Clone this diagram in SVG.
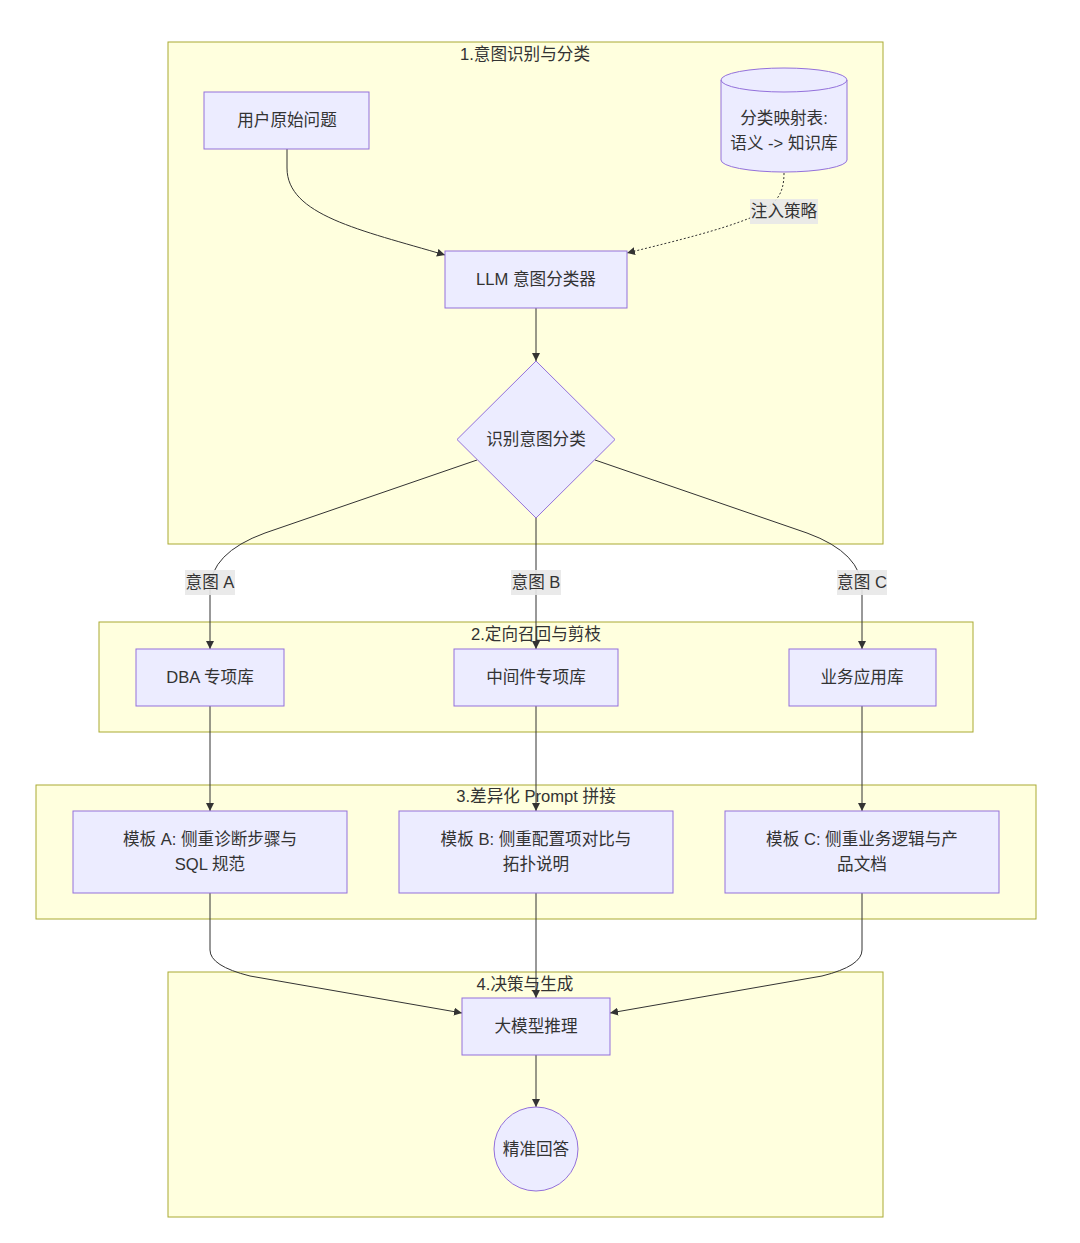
<svg xmlns="http://www.w3.org/2000/svg" width="1080" height="1243" viewBox="0 0 1080 1243">
<style>
.cluster{fill:#ffffde;stroke:#aaaa33;stroke-width:1}
.node{fill:#ececff;stroke:#9370db;stroke-width:1}
.t{font-family:"Liberation Sans","Noto Sans CJK SC",sans-serif;font-size:16.6px;fill:#333;text-anchor:middle;dominant-baseline:central}
.e{fill:none;stroke:#333;stroke-width:1}
.dot{stroke-dasharray:2 2}
.lbl{fill:#e8e8e8;opacity:0.9}
</style>
<defs>
<marker id="arr" viewBox="0 0 10 10" refX="10" refY="5" markerWidth="8" markerHeight="8" markerUnits="userSpaceOnUse" orient="auto">
<path d="M0,0 L10,5 L0,10 z" fill="#333"/>
</marker>
</defs>
<rect width="1080" height="1243" fill="#fff"/>
<g id="clusters">
<g id="c1"><rect class="cluster" x="168" y="42" width="715" height="502"/><text class="t" x="525" y="54">1.意图识别与分类</text></g>
<g id="c2"><rect class="cluster" x="99" y="622" width="874" height="110"/><text class="t" x="536" y="634">2.定向召回与剪枝</text></g>
<g id="c3"><rect class="cluster" x="36" y="785" width="1000" height="134"/><text class="t" x="536" y="796">3.差异化 Prompt 拼接</text></g>
<g id="c4"><rect class="cluster" x="168" y="972" width="715" height="245"/><text class="t" x="525" y="984">4.决策与生成</text></g>
</g>
<g id="edges">
<path class="e" d="M287,149 L287,168 C287,215 360,230 445,255" marker-end="url(#arr)"/>
<path class="e dot" d="M784,173 C784,195 776,205 750,218 C720,230 680,240 627,253" marker-end="url(#arr)"/>
<path class="e" d="M536,308 L536,361" marker-end="url(#arr)"/>
<path class="e" d="M477,460 L265,533 Q210,553 210,590 L210,649" marker-end="url(#arr)"/>
<path class="e" d="M536,518 L536,649" marker-end="url(#arr)"/>
<path class="e" d="M595,460 L807,533 Q862,553 862,590 L862,649" marker-end="url(#arr)"/>
<path class="e" d="M210,706 L210,811" marker-end="url(#arr)"/>
<path class="e" d="M536,706 L536,811" marker-end="url(#arr)"/>
<path class="e" d="M862,706 L862,811" marker-end="url(#arr)"/>
<path class="e" d="M210,893 L210,950 Q210,966 250,976 L462,1013" marker-end="url(#arr)"/>
<path class="e" d="M536,893 L536,998" marker-end="url(#arr)"/>
<path class="e" d="M862,893 L862,950 Q862,966 822,976 L610,1013" marker-end="url(#arr)"/>
<path class="e" d="M536,1055 L536,1107" marker-end="url(#arr)"/>
<g id="edge-labels">
<rect class="lbl" x="750" y="199" width="68" height="25"/><text class="t" x="784" y="211">注入策略</text>
<rect class="lbl" x="185" y="570" width="50" height="25"/><text class="t" x="210" y="582">意图 A</text>
<rect class="lbl" x="511" y="570" width="50" height="25"/><text class="t" x="536" y="582">意图 B</text>
<rect class="lbl" x="837" y="570" width="50" height="25"/><text class="t" x="862" y="582">意图 C</text>
</g>
</g>
<g id="n-user"><rect class="node" x="204" y="92" width="165" height="57"/><text class="t" x="287" y="120">用户原始问题</text></g>
<g id="n-map"><path class="node" d="M721,80 a63,12 0 0,0 126,0 a63,12 0 0,0 -126,0 l0,80 a63,12 0 0,0 126,0 l0,-80"/><text class="t" x="784" y="118">分类映射表:</text><text class="t" x="784" y="143">语义 -&gt; 知识库</text></g>
<g id="n-llm"><rect class="node" x="445" y="251" width="182" height="57"/><text class="t" x="536" y="279">LLM 意图分类器</text></g>
<g id="n-dec"><path class="node" d="M536,361 L615,439.5 L536,518 L457,439.5 z"/><text class="t" x="536" y="439">识别意图分类</text></g>
<g id="n-dba"><rect class="node" x="136" y="649" width="148" height="57"/><text class="t" x="210" y="677">DBA 专项库</text></g>
<g id="n-mid"><rect class="node" x="454" y="649" width="164" height="57"/><text class="t" x="536" y="677">中间件专项库</text></g>
<g id="n-biz"><rect class="node" x="789" y="649" width="147" height="57"/><text class="t" x="862" y="677">业务应用库</text></g>
<g id="n-ta"><rect class="node" x="73" y="811" width="274" height="82"/><text class="t" x="210" y="839">模板 A: 侧重诊断步骤与</text><text class="t" x="210" y="864">SQL 规范</text></g>
<g id="n-tb"><rect class="node" x="399" y="811" width="274" height="82"/><text class="t" x="536" y="839">模板 B: 侧重配置项对比与</text><text class="t" x="536" y="864">拓扑说明</text></g>
<g id="n-tc"><rect class="node" x="725" y="811" width="274" height="82"/><text class="t" x="862" y="839">模板 C: 侧重业务逻辑与产</text><text class="t" x="862" y="864">品文档</text></g>
<g id="n-llm2"><rect class="node" x="462" y="998" width="148" height="57"/><text class="t" x="536" y="1026">大模型推理</text></g>
<g id="n-ans"><ellipse class="node" cx="536" cy="1149" rx="42" ry="42"/><text class="t" x="536" y="1149">精准回答</text></g>
</svg>
